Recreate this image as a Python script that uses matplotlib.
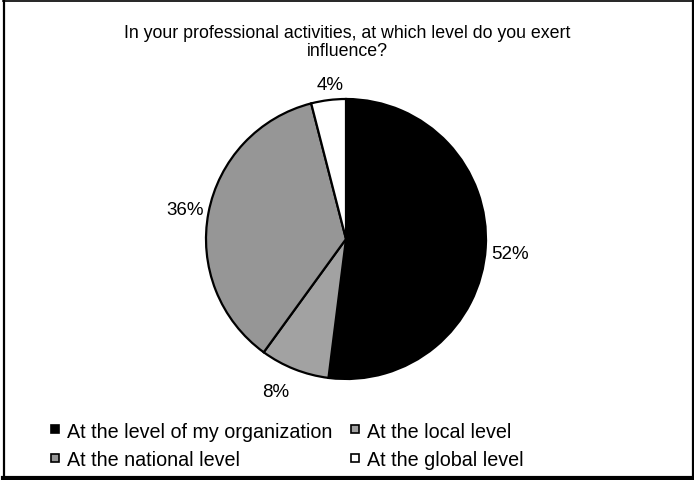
import matplotlib
matplotlib.use("Agg")
import matplotlib.pyplot as plt
from matplotlib.patches import Rectangle
from matplotlib.lines import Line2D

plt.rcParams['font.family'] = ['Liberation Sans', 'DejaVu Sans']

# survey answers, clockwise from 12 o'clock
categorias = ["At the level of my organization", "At the local level",
              "At the national level", "At the global level"]
porcentajes = [52, 8, 36, 4]
colores = ["#000000", "#a2a2a2", "#969696", "#ffffff"]
titulo = ["In your professional activities, at which level do you exert",
          "influence?"]

W, H = 694, 481
fig = plt.figure(figsize=(W / 100, H / 100), dpi=100)

# pie axes: centre (346, 240) px, radius 140 px
cx, cy, r = 346, 240, 140
ax = fig.add_axes([(cx - r) / W, (H - cy - r) / H, 2 * r / W, 2 * r / H])
wedges, textos, pcts = ax.pie(
    porcentajes, colors=colores, startangle=90, counterclock=False,
    autopct=lambda p: f"{round(p)}%", pctdistance=1.17,
    wedgeprops=dict(edgecolor="black", linewidth=1.6),
    textprops=dict(fontsize=13.5, color="black"))
ax.set_xlim(-1, 1)
ax.set_ylim(-1, 1)
ax.set_aspect("equal")
ax.axis("off")

# pequeños ajustes de las etiquetas (en px: derecha, abajo)
ajustes = [(1, 4), (-10, 0), (0, 1), (5, 8)]
for t, (dx, dy) in zip(pcts, ajustes):
    x, y = t.get_position()
    t.set_position((x + dx / r, y - dy / r))

# titulo en dos lineas
for linea, base in zip(titulo, [38, 56]):
    fig.text(347 / W, 1 - base / H, linea, ha="center", va="baseline", fontsize=12.8)

# leyenda en dos columnas
filas = [430, 459]
pos_leyenda = [(55, filas[0]), (355, filas[0]), (55, filas[1]), (355, filas[1])]
lado = 8
for (lx, ly), nombre, color in zip(pos_leyenda, categorias, colores):
    fig.add_artist(Rectangle(((lx - lado / 2) / W, 1 - (ly + lado / 2) / H), lado / W, lado / H,
                             facecolor=color, edgecolor="black", linewidth=1.2,
                             transform=fig.transFigure))
    fig.text((lx + 12) / W, 1 - ly / H, nombre, ha="left", va="center_baseline",
             fontsize=14.2)

# marco exterior con sombra a la derecha y abajo
fig.add_artist(Line2D([3.5 / W, 3.5 / W], [1 - 1 / H, 1 - 478 / H], color="black", lw=1.6,
                      transform=fig.transFigure))
fig.add_artist(Line2D([3 / W, 693 / W], [1 - 1.5 / H, 1 - 1.5 / H], color="black", lw=1.2,
                      transform=fig.transFigure))
fig.add_artist(Line2D([692.5 / W, 692.5 / W], [1 - 1 / H, 1 - 480 / H], color="black", lw=1.6,
                      transform=fig.transFigure))
fig.add_artist(Line2D([3 / W, 694 / W], [1 - 478.5 / H, 1 - 478.5 / H], color="black", lw=3,
                      transform=fig.transFigure))

fig.savefig("out.png", dpi=100)
